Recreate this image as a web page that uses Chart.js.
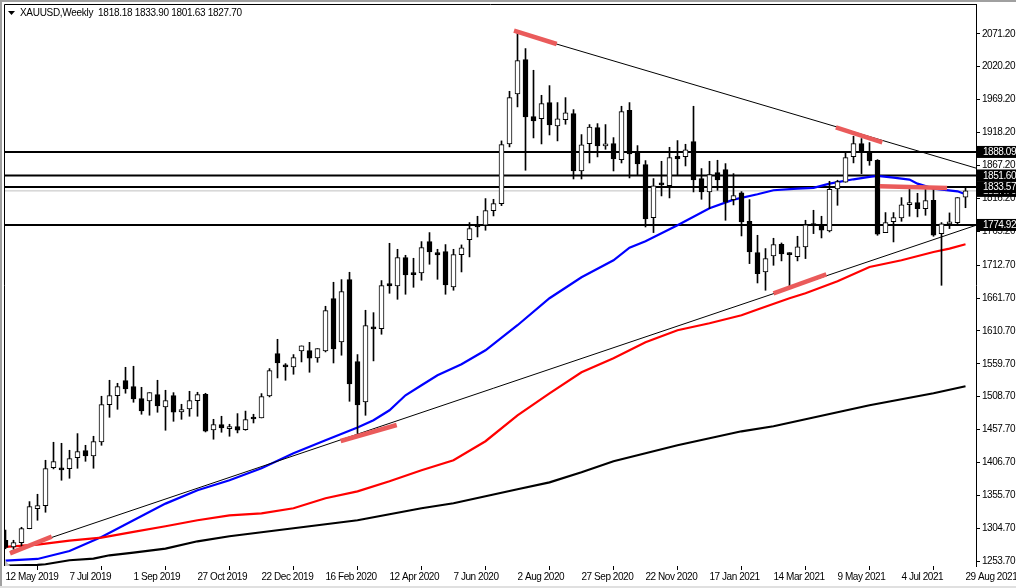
<!DOCTYPE html>
<html>
<head>
<meta charset="utf-8">
<title>XAUUSD Weekly</title>
<script src="https://cdn.jsdelivr.net/npm/chart.js@4/dist/chart.umd.min.js"></script>
<style>
  html, body { margin: 0; padding: 0; background: #fff; overflow: hidden; }
  #wrap { position: relative; width: 1016px; height: 588px; }
</style>
</head>
<body>
<div id="wrap"><canvas id="chart" width="1016" height="588"></canvas></div>
<script>
// weekly candles, one entry per bar, bar 0 is 12 May 2019
const opens = [
  1286,1275.8,1282.6,1304.3,1335.3,1339.9,1398.8,1397.3,1397.3,1414.3,
  1425.2,1416.9,1438.6,1496.5,1510.4,1533.7,1524.4,1505.8,1502.2,1512,
  1492.9,1510.4,1485.1,1489.8,1502.7,1512.5,1457.2,1465.5,1459.3,1462.4,
  1457.5,1476.8,1475.8,1509.9,1575.5,1555.9,1554.9,1579.7,1580.2,1568.8,
  1579.7,1660.8,1593.6,1690.2,1563.1,1500.6,1614.3,1614.3,1684,1680.4,
  1724.3,1699.5,1700.6,1749.1,1732.1,1733.6,1678.9,1729,1752.2,1774,
  1774.4,1797.2,1808,1900.5,1978,2031.2,1942.9,1939.8,1964.6,1928.4,
  1938.2,1947.5,1858.6,1901,1925.8,1897.4,1901,1876.2,1952.7,1887.6,
  1868.5,1786.3,1838,1835.9,1881.4,1880.9,1904.1,1846.8,1826.1,1856,
  1860.7,1814.2,1824.6,1780.6,1732.1,1702.1,1726.9,1745,1731,1725.9,
  1740.9,1775.5,1773.9,1765.7,1830.8,1841.1,1880.9,1901,1887.1,1875.2,
  1763.1,1780.1,1785.8,1806.5,1809.6,1800.3,1813.2,1761.5,1776.5,1778.6,
  1818.18
];
const highs = [
  1302,1286.2,1306.3,1346.1,1357.5,1410.2,1438.1,1436.5,1425.7,1451.5,
  1433.4,1447.4,1509.4,1534.2,1529.5,1554.3,1555.9,1523.3,1515,1534.2,
  1518.7,1515,1497,1517.1,1515.6,1514,1473.7,1478.4,1466,1482.5,
  1486.4,1481.5,1513.5,1552.3,1597.7,1560,1574,1587.4,1593,1583.3,
  1648.9,1686.1,1690.2,1701.6,1574,1642.7,1639,1688.7,1746.5,1737.2,
  1727.9,1723.3,1749.1,1763.1,1737.2,1744.5,1737.2,1744,1778.6,1788.4,
  1815.8,1814.7,1905.2,1982.1,2075,2048.3,2014.7,1975.9,1990.9,1964.6,
  1972.3,1953.7,1915,1930.5,1932,1930.5,1910.3,1958.9,1964.6,1897.9,
  1874.7,1846.8,1873.6,1895.3,1905.7,1900,1958.9,1862.3,1873.6,1875.2,
  1870,1854.5,1826.6,1814.2,1758.9,1738.3,1754.3,1747,1732,1757.4,
  1782.2,1797.7,1788.4,1842.6,1844.2,1887.1,1912.4,1908.8,1902.6,1876.2,
  1794.1,1794.1,1817.3,1830.2,1824,1830.2,1830.2,1778.6,1793.6,1817.3,
  1833.9
];
const lows = [
  1273,1272.2,1274.8,1304,1317.2,1329.6,1396.8,1379.2,1382.3,1397.8,
  1408.6,1397.8,1433.4,1476.8,1489.2,1514.1,1500.1,1481.5,1480,1484.6,
  1456.7,1470.6,1473.7,1478.4,1478.4,1454.1,1442.8,1453.6,1447.4,1452.6,
  1456.7,1468,1475.8,1508.4,1537.8,1534.2,1543.5,1562.6,1546.6,1562.1,
  1578.1,1561,1573,1501.6,1451.5,1479.9,1564.2,1605.5,1669,1659.7,
  1667.5,1678.3,1689.2,1714,1690.7,1667.5,1673.7,1702.1,1725.4,1756.3,
  1766.7,1788.9,1804.9,1895.9,1957.9,1859.7,1909.8,1900.5,1914.4,1905.2,
  1931,1846.2,1846.2,1871,1880.4,1892.2,1858.6,1871,1847.8,1851.4,
  1771.8,1763.1,1819.9,1816.8,1851.4,1866.4,1826.1,1814.7,1800.3,1828.7,
  1782.2,1806,1757.9,1715,1685,1673.7,1712.4,1719.2,1680.4,1719.2,
  1722.8,1761.5,1754.8,1764.1,1805.4,1841.1,1871.1,1854.5,1867.4,1758.9,
  1763.1,1748.6,1780.6,1788.4,1787.4,1789.9,1757.4,1681.4,1769.3,1776,
  1801.63
];
const closes = [
  1275,1282.6,1304.3,1338.4,1339.9,1397.3,1408.1,1395.2,1412.8,1423.6,
  1416.9,1439.1,1496.5,1510.4,1524.4,1520.8,1505.3,1486.7,1515,1494.4,
  1502.7,1484.6,1488.7,1502.7,1512,1455.1,1465.5,1460.3,1462.4,1456.7,
  1473.2,1474.2,1508.9,1549.2,1561,1554.9,1569.3,1587.4,1568.3,1583.3,
  1642.2,1582.8,1671.6,1528.5,1495.9,1618.9,1613.8,1680.9,1680.4,1724.3,
  1697.5,1698,1739.8,1733.1,1728.5,1682,1729,1739.3,1769.3,1772,
  1797.2,1808,1899.5,1972.3,2029.7,1942.4,1936.2,1963,1929.9,1939.3,
  1948.6,1858.6,1899,1926.8,1897.4,1900.5,1877.3,1950.6,1885,1869.5,
  1784.2,1835.4,1837,1879.3,1877.3,1891.2,1844.7,1826.1,1853,1844.7,
  1810.4,1820.4,1779.6,1733.1,1699.5,1722.8,1744.5,1730,1729,1740.9,
  1775,1773.9,1766.7,1830.2,1842.1,1879.3,1901,1888.1,1874.2,1760.5,
  1778.6,1786.3,1806,1809.6,1800.3,1812.7,1759,1776.5,1779.6,1817.3,
  1827.7
];

const blueBars = [0,4,8,12,16,20,24,28,32,36,40,44,46,48,50,52,54,57,60,64,68,72,76,78,80,84,88,91,94,96,99,101,103,106,108,109,111,113,114,116,119,120];
const blueVals = [1254.7,1257.2,1269.6,1291.3,1317.2,1343,1363.7,1379.2,1397.8,1421,1441.2,1460.8,1472.2,1487.7,1510.9,1526.4,1541.9,1559,1580.7,1619.5,1661.3,1693.8,1720.2,1739.6,1749.6,1774.5,1800.8,1814.2,1822.5,1828.7,1831.3,1832.3,1839,1845.7,1849.4,1851,1848.3,1845.2,1839,1831.3,1827.1,1822.5];
const redBars = [0,4,8,12,16,20,24,28,32,36,40,44,48,52,56,60,64,68,72,76,80,84,88,92,94,98,100,104,108,112,116,118,120];
const redVals = [1275.8,1279.5,1285.7,1290.3,1299.1,1307.9,1317.2,1324.9,1328,1335.8,1351.3,1362,1377.7,1394.7,1410.2,1439.7,1479.9,1514,1546.6,1568.3,1593,1611.7,1622.6,1635,1644,1661.3,1669,1687.5,1709.8,1720.2,1733,1738.3,1745];
const blackBars = [0,4,5,8,11,13,16,20,24,28,32,36,40,44,48,52,56,60,64,68,72,76,80,84,88,92,96,100,104,108,112,116,120];
const blackVals = [1247,1248,1249,1255.2,1257.8,1262.9,1267,1273.3,1284.6,1292.4,1298.6,1304.8,1311,1317.2,1326.5,1335.8,1343.5,1354.4,1365.2,1376,1391.6,1408.6,1421,1433.5,1444.3,1455.1,1462.9,1473.7,1484.6,1495.4,1504.7,1514,1524.9];

// horizontal levels and the last close
const levels = [1888.09, 1851.60, 1833.57, 1774.92];
const lastClose = 1827.70;

// drawn lines as [bar, price, bar, price]
const trendLines = [
  [63.8, 2074, 121.4, 1862.7],
  [0.56, 1268.7, 121.4, 1774.8]
];
const redMarks = [
  [0.56, 1266, 5.78, 1291.7],
  [41.9, 1440, 48.9, 1464.8],
  [63.56, 2076, 68.9, 2055.4],
  [103.8, 1926.3, 109.6, 1903],
  [96, 1669, 102.6, 1698.4],
  [109.3, 1834.8, 117.7, 1832.2]
];

const yTicks = [2071.2,2020.2,1969.2,1918.2,1867.2,1816.2,1765.2,1712.7,1661.7,1610.7,1559.7,1508.7,1457.7,1406.7,1355.7,1304.7,1253.7];
const xTickBars = [0,8,16,24,32,40,48,56,64,72,80,88,96,104,112,120];
const xTickLabels = ["12 May 2019","7 Jul 2019","1 Sep 2019","27 Oct 2019","22 Dec 2019","16 Feb 2020","12 Apr 2020","7 Jun 2020","2 Aug 2020","27 Sep 2020","22 Nov 2020","17 Jan 2021","14 Mar 2021","9 May 2021","4 Jul 2021","29 Aug 2021"];

const headerText = "XAUUSD,Weekly  1818.18 1833.90 1801.63 1827.70";

const xMin = -0.1875, xMax = 121.3125;
const yMin = 1246.3, yMax = 2117.4;
const fontFamily = '"Liberation Sans", sans-serif';
const labelFont = '10px ' + fontFamily;

function pairs(bars, vals) {
    return bars.map((b, i) => ({ x: b, y: vals[i] }));
}

function segment(s) {
    return [{ x: s[0], y: s[1] }, { x: s[2], y: s[3] }];
}

function lineSet(data, color, width, order) {
    return {
        type: "line",
        data: data,
        borderColor: color,
        borderWidth: width,
        pointRadius: 0,
        tension: 0,
        order: order
    };
}

const datasets = [];

levels.forEach(v => {
    datasets.push(lineSet(segment([xMin, v, xMax, v]), "#000", 2, 9));
});
datasets.push(lineSet(segment([xMin, lastClose, xMax, lastClose]), "#c0c0c0", 1, 10));

datasets.push(lineSet(pairs(blackBars, blackVals), "#000", 2.2, 6));
datasets.push(lineSet(pairs(redBars, redVals), "#ff0000", 2.2, 6));
datasets.push(lineSet(pairs(blueBars, blueVals), "#0000ff", 2.2, 6));

trendLines.forEach(t => datasets.push(lineSet(segment(t), "#000", 1, 5)));

datasets.push({
    type: "bar",
    data: lows.map((l, i) => ({ x: i, y: [l, highs[i]] })),
    backgroundColor: "#000",
    borderWidth: 0,
    barThickness: 1,
    grouped: false,
    order: 4
});
datasets.push({
    type: "bar",
    data: opens.map((o, i) => ({ x: i, y: [o, closes[i]] })),
    backgroundColor: opens.map((o, i) => closes[i] >= o ? "#fff" : "#000"),
    borderColor: "#000",
    borderWidth: 1,
    borderSkipped: false,
    barThickness: 5,
    minBarLength: 2,
    grouped: false,
    order: 3
});

redMarks.forEach(m => datasets.push(lineSet(segment(m), "#ea5b5b", 4.5, 1)));

// window edge, frame, header and the black price tags on the axis
const chartFurniture = {
    id: "chartFurniture",
    beforeDraw(chart) {
        const ctx = chart.ctx;
        ctx.letterSpacing = "-0.45px";
        ctx.save();
        ctx.fillStyle = "#fff";
        ctx.fillRect(0, 0, 1016, 588);
        ctx.fillStyle = "#a0a0a0";
        ctx.fillRect(0, 0, 2, 588);
        ctx.fillRect(0, 0, 1016, 2);
        ctx.fillStyle = "#e0e0e0";
        ctx.fillRect(0, 586, 1016, 2);
        ctx.restore();
    },
    afterDraw(chart) {
        const ctx = chart.ctx;
        const area = chart.chartArea;
        const y = chart.scales.y;
        ctx.save();
        ctx.strokeStyle = "#000";
        ctx.lineWidth = 1;
        ctx.beginPath();
        ctx.moveTo(area.left + 0.5, area.bottom);
        ctx.lineTo(area.left + 0.5, area.top + 0.5);
        ctx.lineTo(area.right + 0.5, area.top + 0.5);
        ctx.stroke();

        // shift marker in the corner
        ctx.fillStyle = "#c0c0c0";
        ctx.beginPath();
        ctx.moveTo(5, 560);
        ctx.lineTo(5, 566);
        ctx.lineTo(10, 566);
        ctx.fill();

        ctx.font = labelFont;
        ctx.textBaseline = "middle";
        ctx.textAlign = "left";
        [lastClose, levels[0], levels[1], levels[3], levels[2]].forEach(v => {
            const py = y.getPixelForValue(v);
            ctx.fillStyle = "#000";
            ctx.fillRect(area.right + 1, py - 6, 39, 12);
            ctx.fillStyle = "#fff";
            ctx.fillText(v.toFixed(2), 983, py + 0.5);
        });

        ctx.fillStyle = "#000";
        ctx.beginPath();
        ctx.moveTo(8, 11);
        ctx.lineTo(15, 11);
        ctx.lineTo(11.5, 15);
        ctx.fill();
        ctx.letterSpacing = "-0.3px";
        ctx.fillText(headerText, 20, 13);
        ctx.restore();
    }
};

new Chart(document.getElementById("chart"), {
    type: "bar",
    data: { datasets: datasets },
    plugins: [chartFurniture],
    options: {
        responsive: false,
        animation: false,
        layout: { padding: { left: 4, top: 4, right: 0, bottom: 0 } },
        plugins: { legend: { display: false }, tooltip: { enabled: false }, title: { display: false } },
        scales: {
            x: {
                type: "linear",
                offset: false,
                min: xMin,
                max: xMax,
                afterBuildTicks(scale) {
                    scale.ticks = xTickBars.map(b => ({ value: b }));
                },
                afterFit(scale) {
                    scale.height = 22;
                    scale.paddingLeft = 0;
                    scale.paddingRight = 0;
                },
                grid: { drawOnChartArea: false, drawTicks: true, tickLength: 4, color: "#000" },
                border: { display: false },
                ticks: {
                    autoSkip: false,
                    maxRotation: 0,
                    align: "start",
                    padding: 1,
                    color: "#000",
                    font: { family: fontFamily, size: 10 },
                    callback: v => xTickLabels[xTickBars.indexOf(v)]
                }
            },
            y: {
                position: "right",
                min: yMin,
                max: yMax,
                beginAtZero: false,
                afterBuildTicks(scale) {
                    scale.ticks = yTicks.map(v => ({ value: v }));
                },
                afterFit(scale) {
                    scale.width = 40;
                    scale.paddingTop = 0;
                    scale.paddingBottom = 0;
                },
                grid: { drawOnChartArea: false, drawTicks: true, tickLength: 4, color: "#000" },
                border: { display: true, color: "#000", width: 1 },
                ticks: {
                    autoSkip: false,
                    padding: 2,
                    color: "#000",
                    font: { family: fontFamily, size: 10 },
                    callback: v => v.toFixed(2)
                }
            }
        }
    }
});
</script>
</body>
</html>
